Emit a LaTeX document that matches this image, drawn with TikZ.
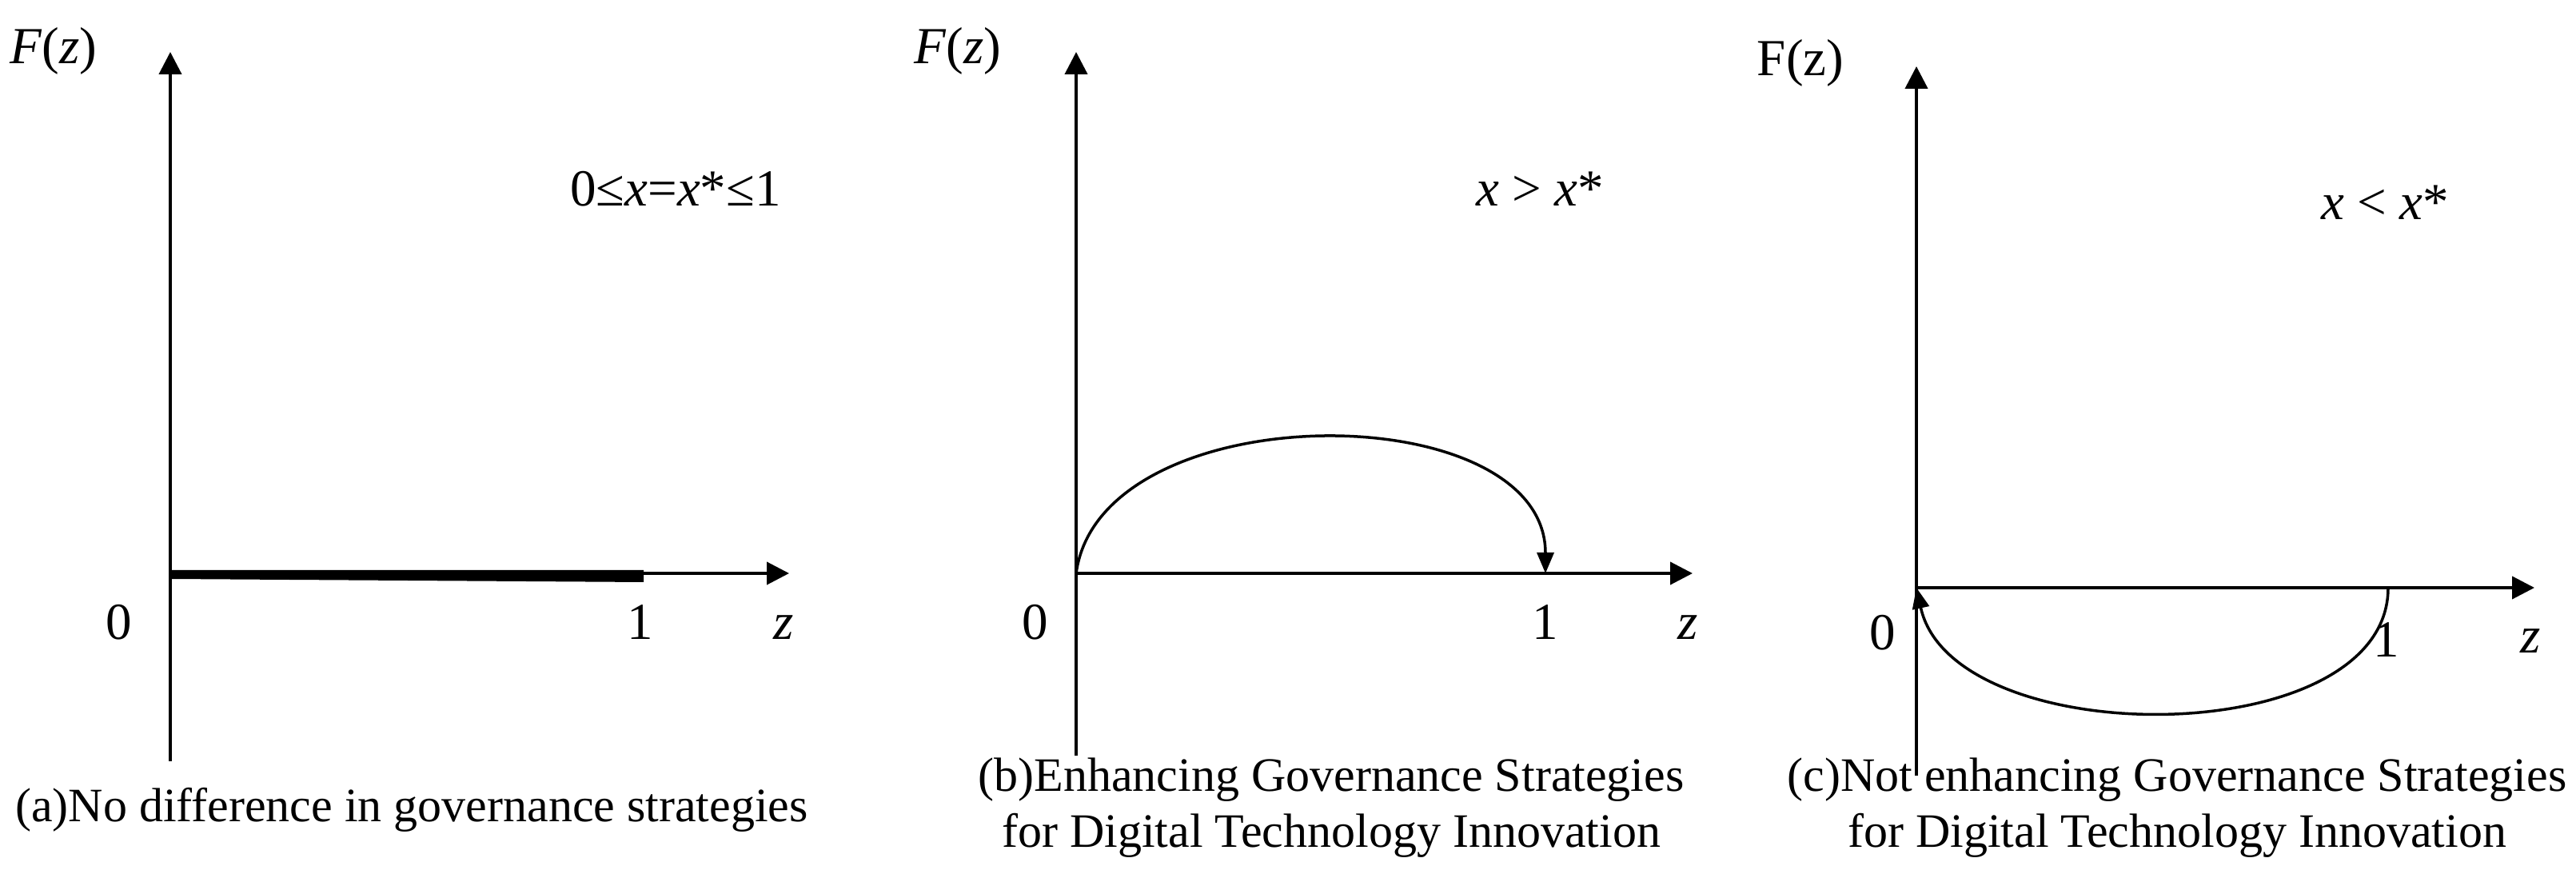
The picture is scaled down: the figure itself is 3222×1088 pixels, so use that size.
\documentclass[tikz,border=0pt]{standalone}
\usepackage{fontspec}
\setmainfont{Liberation Serif}
\usetikzlibrary{arrows.meta}

\newcommand{\lblsize}{\fontsize{13pt}{15pt}\selectfont}
\newcommand{\capsize}{\fontsize{12pt}{14pt}\selectfont}

\tikzset{
  axisline/.style={line width=0.8pt, -{Triangle[length=5.6pt,width=5.6pt]}},
  flowcurve/.style={line width=0.7pt, -{Triangle[length=5.2pt,width=4.2pt]}},
  lbl/.style={font=\lblsize, inner sep=0pt, anchor=base},
  capt/.style={font=\capsize, inner sep=0pt, align=center},
}

\begin{document}
\begin{tikzpicture}[x=0.2pt, y=-0.2pt]
\useasboundingbox (0,0) rectangle (3222,1088);

% (a) no difference
\coordinate (Oa) at (213,717);
\coordinate (Ta) at (213,65);
\coordinate (Ba) at (213,952);
\coordinate (Ea) at (987,717);
\coordinate (Ua) at (805,717);
\draw[axisline] (Ba) -- (Ta);
\draw[axisline] (Oa) -- (Ea);
\fill (213,713) -- (805,713) -- (805,728) -- (213,724) -- cycle;
\node[lbl] (Fa) at (67,80) {\textit{F}(\textit{z})};
\node[lbl] (conda) at (845,258) {0≤\textit{x}=\textit{x}*≤1};
\node[lbl] (zeroa) at (149,800) {0};
\node[lbl] (onea) at (801,800) {1};
\node[lbl] (za) at (980,800) {\textit{z}};
\node[capt, anchor=base] (capa) at (515,1028) {(a)No difference in governance strategies};

% (b) enhancing
\coordinate (Ob) at (1346,717);
\coordinate (Tb) at (1346,65);
\coordinate (Bb) at (1346,945);
\coordinate (Eb) at (2117,717);
\coordinate (Ub) at (1933,717);
\draw[axisline] (Bb) -- (Tb);
\draw[axisline] (Ob) -- (Eb);
\draw[flowcurve] (Ob) .. controls +(30,-225) and +(0,-225) .. (Ub);
\node[lbl] (Fb) at (1198,80) {\textit{F}(\textit{z})};
\node[lbl] (condb) at (1926,258) {\textit{x}\hspace{0.25em}>\hspace{0.25em}\textit{x}*};
\node[lbl] (zerob) at (1295,800) {0};
\node[lbl] (oneb) at (1933,800) {1};
\node[lbl] (zb) at (2111,800) {\textit{z}};
\node[capt] (capb) at (1665,1010) {(b)Enhancing Governance Strategies\\for Digital Technology Innovation};

% (c) not enhancing
\coordinate (Oc) at (2397,735);
\coordinate (Tc) at (2397,83);
\coordinate (Bc) at (2397,970);
\coordinate (Ec) at (3170,735);
\coordinate (Uc) at (2987,735);
\draw[axisline] (Bc) -- (Tc);
\draw[axisline] (Oc) -- (Ec);
\draw[flowcurve] (Uc) .. controls +(0,207) and +(45,207) .. (Oc);
\node[lbl] (Fc) at (2252,95) {F(z)};
\node[lbl] (condc) at (2983,275) {\textit{x}\hspace{0.25em}<\hspace{0.25em}\textit{x}*};
\node[lbl] (zeroc) at (2355,813) {0};
\node[lbl] (onec) at (2985,822) {1};
\node[lbl] (zc) at (3165,817) {\textit{z}};
\node[capt] (capc) at (2723,1010) {(c)Not enhancing Governance Strategies\\for Digital Technology Innovation};
\end{tikzpicture}
\end{document}
